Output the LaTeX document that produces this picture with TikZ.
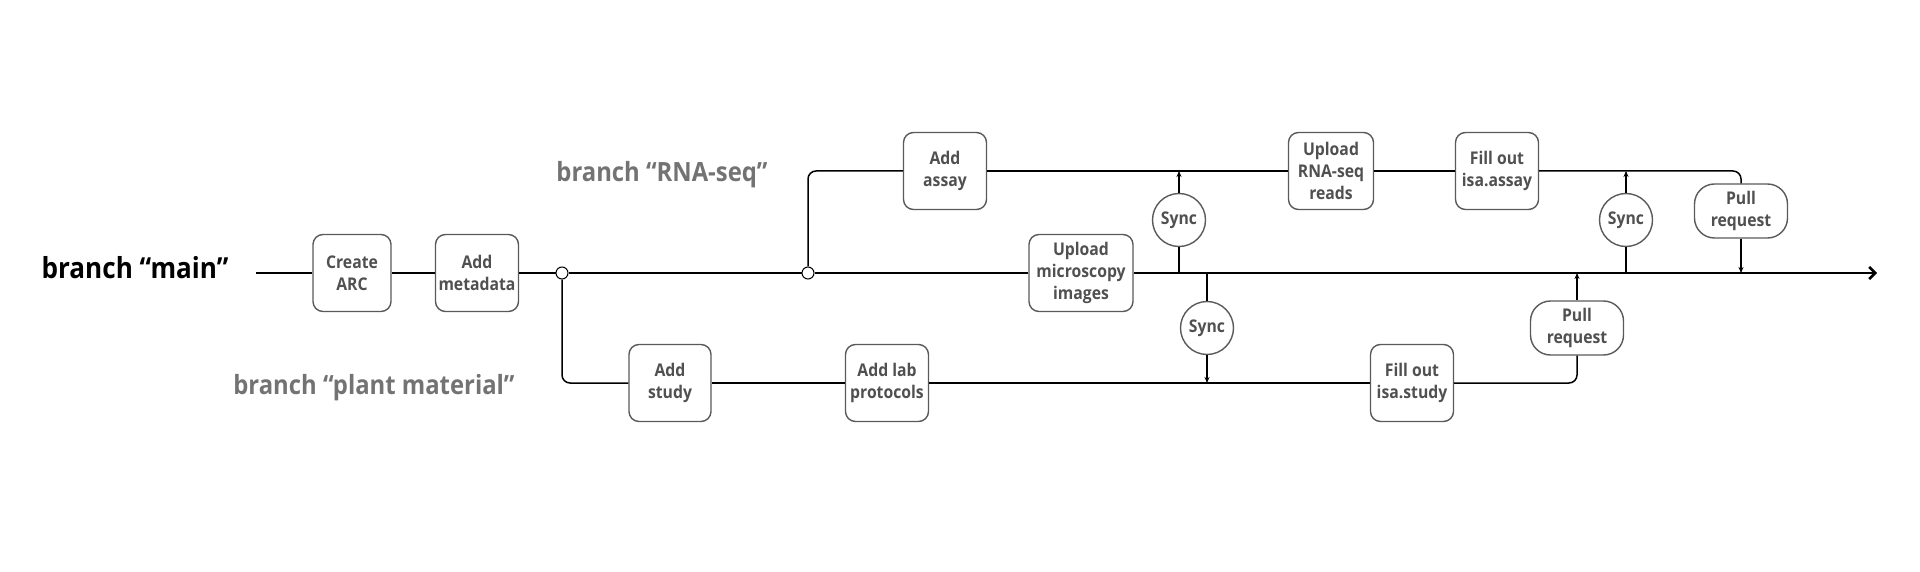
\documentclass[tikz,border=0pt]{standalone}
\usepackage{fontspec}
\setmainfont{Open Sans}[FakeStretch=0.9]
\usetikzlibrary{arrows.meta,shapes.geometric}
\definecolor{boxgray}{HTML}{5A5A5A}
\definecolor{txtgray}{HTML}{505050}
\definecolor{labgray}{HTML}{737373}
\begin{document}
\begin{tikzpicture}[x=1pt,y=-1pt,
  boxfont/.style={font=\fontsize{17.5}{22}\selectfont\bfseries, text=txtgray},
  box/.style={draw=boxgray, line width=1.4pt, fill=white, rounded corners=10pt,
    minimum width=#1, minimum height=77pt, inner sep=0pt, align=center, boxfont},
  box/.default=83pt,
  syncnode/.style={circle, draw=boxgray, line width=1.4pt, fill=white,
    minimum size=53pt, inner sep=0pt, boxfont},
  prnode/.style={draw=boxgray, line width=1.4pt, fill=white, rounded corners=20pt,
    minimum width=93pt, minimum height=54pt, inner sep=0pt, align=center, boxfont},
  dot/.style={circle, draw=black, line width=1pt, fill=white, minimum size=12pt, inner sep=0pt},
  mainline/.style={line width=2.8pt, black},
  branchline/.style={line width=1.5pt, black, rounded corners=8pt},
  syncline/.style={line width=1.3pt, black},
  tip/.style={-{Stealth[length=6pt,width=5pt]}},
  blabel/.style={font=\fontsize{26.5}{30}\selectfont\bfseries, text=labgray}
]
\useasboundingbox (0,0) rectangle (1920,572);

\node[font=\fontsize{29}{32}\selectfont\bfseries] (mainlab) at (135,268) {branch “main”};
\node[blabel] (plantlab) at (374,388) {branch “plant material”};
\node[blabel] (rnalab) at (662,175) {branch “RNA-seq”};

\coordinate (start) at (256,273);
\coordinate (finish) at (1877,273);

\node[box=78pt] (create) at (352,273) {Create\\ARC};
\node[box] (meta) at (477,273) {Add\\metadata};
\node[dot] (c1) at (562,273) {};
\node[dot] (c2) at (808,273) {};
\node[box=104pt] (micro) at (1081,273) {Upload\\microscopy\\images};

\node[box=82pt] (study) at (670,383) {Add\\study};
\node[box] (lab) at (887,383) {Add lab\\protocols};
\node[box] (isastudy) at (1412,383) {Fill out\\isa.study};

\node[box] (assay) at (945,171) {Add\\assay};
\node[box=85pt] (rnaseq) at (1331,171) {Upload\\RNA-seq\\reads};
\node[box] (isaassay) at (1497,171) {Fill out\\isa.assay};

\node[syncnode] (sync1) at (1179,220) {Sync};
\node[syncnode] (sync2) at (1207,328) {Sync};
\node[syncnode] (sync3) at (1626,220) {Sync};
\node[prnode] (pr1) at (1741,211) {Pull\\request};
\node[prnode] (pr2) at (1577,328) {Pull\\request};

% main line
\draw[mainline] (start) -- (create.west);
\draw[mainline] (create.east) -- (meta.west);
\draw[mainline] (meta.east) -- (c1);
\draw[mainline] (c1) -- (c2);
\draw[mainline] (c2) -- (micro.west);
\draw[mainline, -{Straight Barb[length=6pt,width=12pt,line width=2.6pt]}] (micro.east) -- (finish);

% lower branch
\draw[branchline] (c1.south) |- (study.west);
\draw[branchline] (study.east) -- (lab.west);
\draw[branchline] (lab.east) -- (isastudy.west);
\draw[branchline] (isastudy.east) -| (pr2.south);

% upper branch
\draw[branchline] (c2.north) |- (assay.west);
\draw[branchline] (assay.east) -- (rnaseq.west);
\draw[branchline] (rnaseq.east) -- (isaassay.west);
\draw[branchline] (isaassay.east) -| (pr1.north);

% syncs
\draw[syncline] (sync1.south |- start) -- (sync1.south);
\draw[syncline, tip] (sync1.north) -- (sync1.north |- assay);
\draw[syncline] (sync2.north |- start) -- (sync2.north);
\draw[syncline, tip] (sync2.south) -- (sync2.south |- study);
\draw[syncline] (sync3.south |- start) -- (sync3.south);
\draw[syncline, tip] (sync3.north) -- (sync3.north |- isaassay);

% pull requests
\draw[syncline, tip] (pr1.south) -- (pr1.south |- start);
\draw[syncline, tip] (pr2.north) -- (pr2.north |- start);
\end{tikzpicture}
\end{document}
